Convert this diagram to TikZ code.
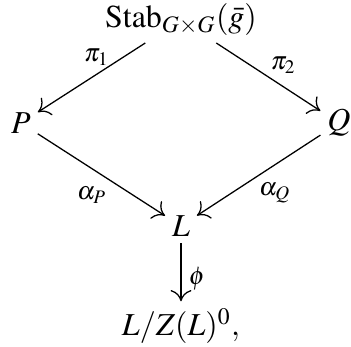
\documentclass[tikz,border=0pt]{standalone}
\usepackage{mathptmx}
\usetikzlibrary{arrows.meta, positioning}

\begin{document}
\begin{tikzpicture}[
        x=0.011cm, y=-0.011cm,
        obj/.style={inner sep=2pt},
        map/.style={-{To[length=3.5pt, width=6.5pt]}, line width=0.4pt},
        lbl/.style={font=\footnotesize, inner sep=1pt}
      ]
        \useasboundingbox (0,0) rectangle (351,347);
        % Objects
        \node[obj] (stab) at (181,20) {$\mathrm{Stab}_{G\times G}(\bar{g})$};
        \node[obj] (p) at (21,123) {$P$};
        \node[obj] (q) at (339,123) {$Q$};
        \node[obj] (l) at (181,226) {$L$};
        \node[obj] (quot) at (181,326) {$L/Z(L)^0,$};

        % Maps
        \draw[map] (stab) -- node[lbl, pos=0.48, shift={(3,-19)}] {$\pi_1$} (p);
        \draw[map] (stab) -- node[lbl, pos=0.55, shift={(10,-15)}] {$\pi_2$} (q);
        \draw[map] (p) -- node[lbl, pos=0.48, shift={(-7,22)}] {$\alpha_P$} (l);
        \draw[map] (q) -- node[lbl, pos=0.49, shift={(15,18)}] {$\alpha_Q$} (l);
        \draw[map] (l) -- node[lbl, pos=0.6, shift={(16,1)}] {$\phi$} (quot);
      \end{tikzpicture}
\end{document}
